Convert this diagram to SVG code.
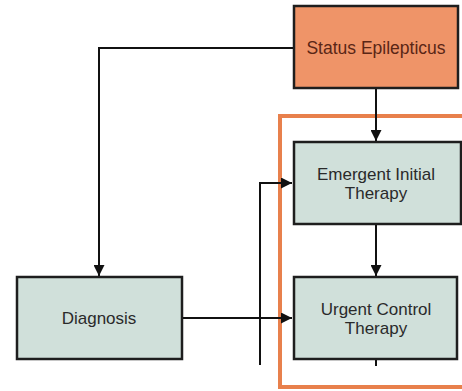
<svg xmlns="http://www.w3.org/2000/svg" width="462" height="391" viewBox="0 0 462 391">
<defs>
<style>
.box{stroke:#1e1e1e;stroke-width:2.5}
.green{fill:#d0e0da}
.orange{fill:#ef9468}
.lbl{font-family:"Liberation Sans",Arial,sans-serif;font-size:17px;text-anchor:middle;fill:#2a2a2a}
.lblo{fill:#5a2616;font-size:17.5px}
.conn{fill:none;stroke:#111;stroke-width:2}
</style>
<marker id="ah" viewBox="0 0 10 10" refX="10" refY="5" markerWidth="5.5" markerHeight="5.5" orient="auto" markerUnits="strokeWidth">
<path d="M0,0 L10,5 L0,10 z" fill="#111"/>
</marker>
</defs>
<rect width="462" height="391" fill="#fff"/>
<g id="container">
<rect x="280" y="116" width="190" height="271" fill="none" stroke="#e8804c" stroke-width="4"/>
</g>
<g id="connectors">
<path class="conn" d="M294,48 H99 V276" marker-end="url(#ah)"/>
<path class="conn" d="M376,88 V141" marker-end="url(#ah)"/>
<path class="conn" d="M376,224 V276" marker-end="url(#ah)"/>
<path class="conn" d="M182,318 H292" marker-end="url(#ah)"/>
<path class="conn" d="M260,365 V183 H292" marker-end="url(#ah)"/>
<path class="conn" d="M376,359 V366"/>
</g>
<g id="status">
<rect class="box orange" x="294" y="6" width="164" height="82"/>
<text class="lbl lblo" x="376" y="54">Status Epilepticus</text>
</g>
<g id="emergent">
<rect class="box green" x="294" y="142" width="167" height="82"/>
<text class="lbl" x="376" y="180">Emergent Initial</text>
<text class="lbl" x="376" y="199">Therapy</text>
</g>
<g id="urgent">
<rect class="box green" x="294" y="277" width="163" height="82"/>
<text class="lbl" x="376" y="315">Urgent Control</text>
<text class="lbl" x="376" y="334">Therapy</text>
</g>
<g id="diagnosis">
<rect class="box green" x="17" y="277" width="165" height="82"/>
<text class="lbl" x="99" y="324">Diagnosis</text>
</g>
</svg>
